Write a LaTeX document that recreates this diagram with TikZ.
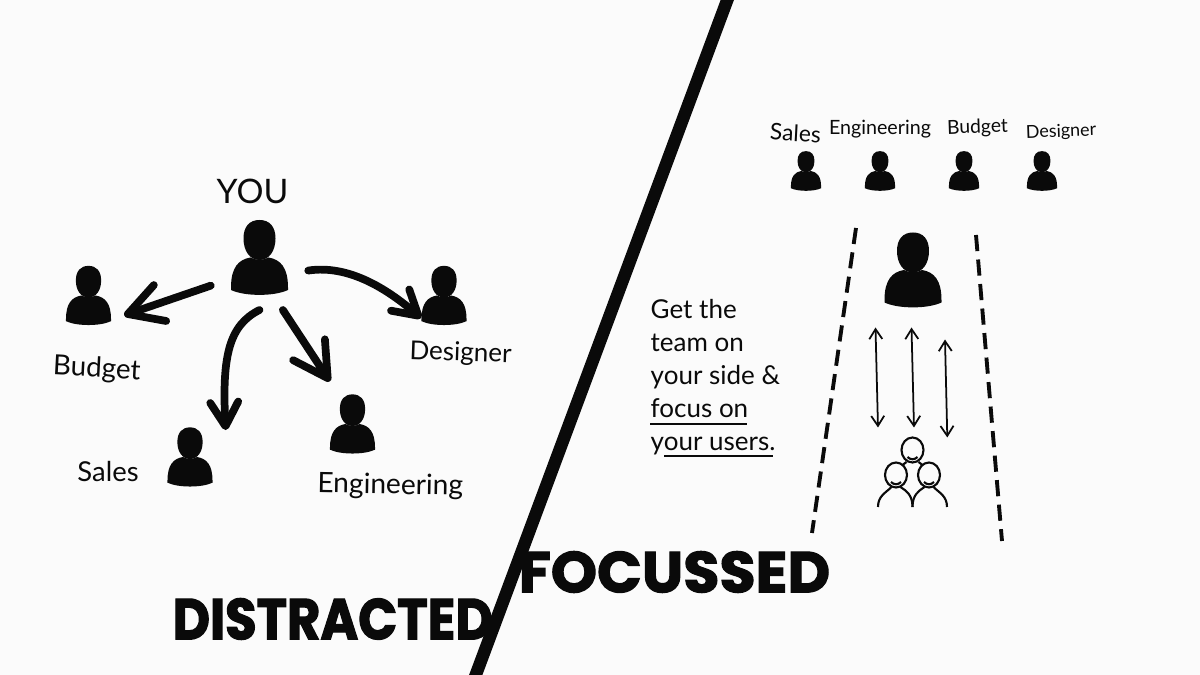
\documentclass[tikz,border=0pt]{standalone}
\usepackage{fontspec}
\setmainfont{Lato}
\newfontfamily\headfont[BoldFeatures={FakeBold=2}]{Poppins}
\usepackage{xcolor}
\usepackage{tikz}
\usetikzlibrary{arrows.meta,positioning,calc}
\definecolor{paper}{HTML}{FBFBFB}
\definecolor{inkblack}{HTML}{0A0A0A}
\newcommand{\personshape}{
  \fill[inkblack] (0,-.025) .. controls (-.1,-.025) and (-.16,.07) .. (-.16,.19) .. controls (-.16,.31) and (-.1,.375) .. (0,.375) .. controls (.1,.375) and (.16,.31) .. (.16,.19) .. controls (.16,.07) and (.1,-.025) .. (0,-.025) -- cycle;
  \fill[inkblack] (-.285,-.30) .. controls (-.285,-.1) and (-.21,-.02) .. (-.09,0) .. controls (-.04,-.03) and (.04,-.03) .. (.09,0) .. controls (.21,-.02) and (.285,-.1) .. (.285,-.30) -- (.285,-.325) .. controls (.15,-.39) and (-.15,-.39) .. (-.285,-.325) -- cycle;
}
\tikzset{
  person/.style={rectangle, inner sep=0pt, outer sep=.13cm, minimum width=#1*.575cm, minimum height=#1*.75cm,
    path picture={\begin{scope}[shift={(path picture bounding box.center)},x=#1cm,y=#1cm]\personshape\end{scope}}},
  handarrow/.style={-{Straight Barb[length=3.4mm,width=3.8mm,round]}, line width=2.2pt, inkblack, line cap=round},
  curvearrow/.style={-{Straight Barb[length=2.4mm,width=2.8mm,round]}, line width=2.2pt, inkblack, line cap=round},
  thinarrow/.style={{Straight Barb[length=1mm,width=1.3mm]}-{Straight Barb[length=1mm,width=1.3mm]}, line width=.5pt, inkblack},
  lane/.style={line width=1.1pt, inkblack, dash pattern=on 4.6pt off 2.4pt},
  hand/.style={inkblack, inner sep=0pt, font=\fontsize{#1}{#1}\selectfont},
  head/.style={inkblack, inner sep=0pt, font=\headfont\bfseries\fontsize{16.4}{16.4}\selectfont},
  teamline/.style={line width=.6pt, inkblack}
}
\begin{document}
\begin{tikzpicture}
  \useasboundingbox (0,0) rectangle (12,6.75);
  \fill[paper] (0,0) rectangle (12,6.75);
  % divider
  \draw[line width=.125cm, inkblack] (7.31,6.85) -- (4.72,-.1);
  % distracted side
  \node[person=1, outer xsep=.2cm, outer ysep=.15cm] (you) at (2.595,4.175) {};
  \node[person=.79] (budget) at (.885,3.795) {};
  \node[person=.79, outer sep=0pt] (designer) at (4.44,3.795) {};
  \node[person=.79] (sales) at (1.90,2.18) {};
  \node[person=.79] (engineering) at (3.525,2.51) {};
  \draw[handarrow] (you.210) -- (budget.-29);
  \draw[curvearrow] (you.south) .. controls +(-.3,-.15) and +(-.04,.75) .. (sales.37);
  \draw[handarrow] (you.-66) -- (engineering.118);
  \draw[curvearrow] (you.-15) .. controls +(.4,.06) and +(-.35,.3) .. (designer.-135);
  \node[hand=9.6, above=.01cm of you, xshift=-.07cm] (youlabel) {YOU};
  \node[hand=7.9, below=.18cm of budget, xshift=.09cm, rotate=-3] (budgetlabel) {Budget};
  \node[hand=7.4, below=.16cm of designer, xshift=.17cm, rotate=-2] (designerlabel) {Designer};
  \node[hand=7.8, left=.15cm of sales, yshift=-.15cm] (saleslabel) {Sales};
  \node[hand=8, below=.06cm of engineering, xshift=.38cm, rotate=-1] (engineeringlabel) {Engineering};
  \node[head, anchor=west] (distracted) at (1.72,.56) {\addfontfeature{FakeStretch=.89}DISTRACTED};
  % focussed side
  \node[person=.53] (salesb) at (8.06,5.04) {};
  \node[person=.53] (engineeringb) at (8.80,5.04) {};
  \node[person=.53] (budgetb) at (9.64,5.04) {};
  \node[person=.53] (designerb) at (10.42,5.04) {};
  \node[hand=6.5, rotate=-3] (salesblabel) at (7.955,5.42) {Sales};
  \node[hand=5.6] (engineeringblabel) at (8.80,5.46) {Engineering};
  \node[hand=5.5, rotate=2] (budgetblabel) at (9.775,5.47) {Budget};
  \node[hand=5.1, rotate=2] (designerblabel) at (10.61,5.43) {Designer};
  \node[person=1, outer ysep=.2cm, outer xsep=0pt] (focus) at (9.13,4.05) {};
  \node[rectangle, inner sep=0pt, outer sep=.1cm, minimum width=.69cm, minimum height=.69cm] (team) at (9.125,2.03) {};
  \draw[lane] (8.56,4.47) -- (8.12,1.42);
  \draw[lane] (9.76,4.40) -- (10.02,1.34);
  \draw[thinarrow] ([xshift=-.375cm]focus.south) -- ([xshift=-.345cm]team.north);
  \draw[thinarrow] ([xshift=-.015cm]focus.south) -- ([xshift=.015cm]team.north);
  \draw[thinarrow] ([xshift=.32cm,yshift=-.12cm]focus.south) -- ([xshift=.348cm,yshift=-.1cm]team.north);
  \begin{scope}[shift={(team.center)}, teamline]
    \draw (0,.22) ellipse (.11 and .125);
    \draw (-.165,-.03) ellipse (.11 and .125);
    \draw (.165,-.03) ellipse (.11 and .125);
    \draw (-.05,.15) .. controls (-.02,.12) and (.02,.12) .. (.05,.15);
    \draw (-.215,-.10) .. controls (-.185,-.13) and (-.145,-.13) .. (-.115,-.10);
    \draw (.115,-.10) .. controls (.145,-.13) and (.185,-.13) .. (.215,-.10);
    \draw (-.06,.10) -- (-.1,.07);
    \draw (.06,.10) -- (.1,.07);
    \draw (-.345,-.35) .. controls (-.345,-.24) and (-.27,-.21) .. (-.21,-.15);
    \draw (-.12,-.15) .. controls (-.06,-.19) and (0,-.23) .. (0,-.35);
    \draw (.345,-.35) .. controls (.345,-.24) and (.27,-.21) .. (.21,-.15);
    \draw (.12,-.15) .. controls (.06,-.19) and (0,-.23) .. (0,-.35);
  \end{scope}
  \node[anchor=north west, align=left, inkblack, inner sep=0pt, font=\fontsize{7.4}{9.35}\selectfont] (note) at (6.50,3.76) {Get the\\team on\\your side \&\\focus on\\your users.};
  \draw[line width=.75pt, inkblack] (6.50,2.51) -- (7.47,2.51);
  \draw[line width=.75pt, inkblack] (6.64,2.19) -- (7.73,2.19);
  \node[head, anchor=west] (focussed) at (5.18,1.03) {\addfontfeature{FakeStretch=1.02}FOCUSSED};
\end{tikzpicture}
\end{document}
